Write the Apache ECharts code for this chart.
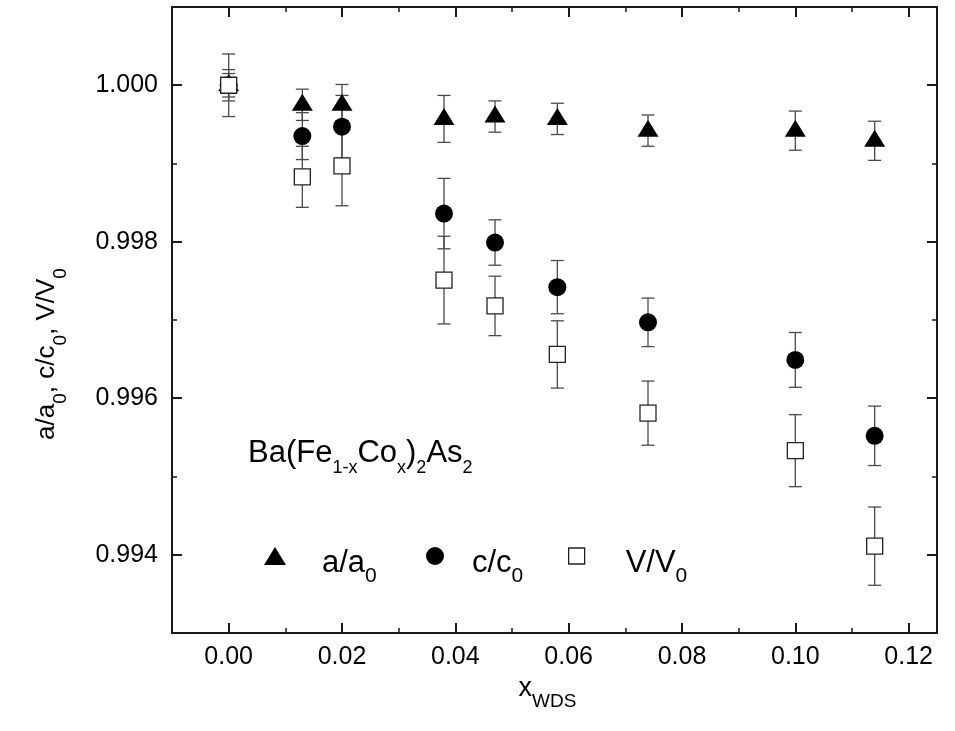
<!DOCTYPE html>
<html>
<head>
<meta charset="utf-8">
<script src="https://cdn.jsdelivr.net/npm/echarts@6/dist/echarts.min.js"></script>
<style>
  html, body { margin: 0; padding: 0; background: #ffffff; }
  #chart { width: 955px; height: 731px; }
</style>
</head>
<body>
<div id="chart"></div>
<script>
// Co content from WDS analysis
const xWds = [0.000, 0.013, 0.020, 0.038, 0.047, 0.058, 0.074, 0.100, 0.114];

// normalised lattice parameter a/a0 and its uncertainty
const aRatio = [1.00000, 0.99975, 0.99975, 0.99957, 0.99960, 0.99957, 0.99942, 0.99942, 0.99929];
const aErr   = [0.00015, 0.00020, 0.00026, 0.00030, 0.00020, 0.00020, 0.00020, 0.00025, 0.00025];

// normalised lattice parameter c/c0 and its uncertainty
const cRatio = [1.00000, 0.99935, 0.99947, 0.99836, 0.99799, 0.99742, 0.99697, 0.99649, 0.99552];
const cErr   = [0.00020, 0.00030, 0.00040, 0.00045, 0.00029, 0.00034, 0.00031, 0.00035, 0.00038];

// normalised unit-cell volume V/V0 and its uncertainty
const vRatio = [1.00000, 0.99883, 0.99897, 0.99751, 0.99718, 0.99656, 0.99581, 0.99533, 0.99411];
const vErr   = [0.00040, 0.00039, 0.00051, 0.00056, 0.00038, 0.00043, 0.00041, 0.00046, 0.00050];

// axis ticks
const xMajorTicks = [0.00, 0.02, 0.04, 0.06, 0.08, 0.10, 0.12];
const xMinorTicks = [0.01, 0.03, 0.05, 0.07, 0.09, 0.11];
const yMajorTicks = [0.994, 0.996, 0.998, 1.000];
const yMinorTicks = [0.995, 0.997, 0.999];

const FONT = '"Liberation Sans", Arial, Helvetica, sans-serif';
const INK = '#1a1a1a';
const X_MIN = -0.01, X_MAX = 0.125;
const Y_MIN = 0.993, Y_MAX = 1.001;

const chart = echarts.init(document.getElementById('chart'), null, { renderer: 'canvas' });

function pairs(values) {
  return xWds.map((x, i) => [x, values[i]]);
}
function errRows(values, errs) {
  return xWds.map((x, i) => [x, values[i] - errs[i], values[i] + errs[i]]);
}

// vertical error bar with end caps
function renderErrorBar(params, api) {
  const x = api.value(0);
  const lo = api.coord([x, api.value(1)]);
  const hi = api.coord([x, api.value(2)]);
  const half = 6.5;
  const style = { stroke: '#4a4a4a', lineWidth: 1.3, fill: null };
  return {
    type: 'group',
    children: [
      { type: 'line', shape: { x1: lo[0], y1: lo[1], x2: hi[0], y2: hi[1] }, style },
      { type: 'line', shape: { x1: lo[0] - half, y1: lo[1], x2: lo[0] + half, y2: lo[1] }, style },
      { type: 'line', shape: { x1: hi[0] - half, y1: hi[1], x2: hi[0] + half, y2: hi[1] }, style }
    ]
  };
}

function errorSeries(id, values, errs) {
  return {
    id: id,
    type: 'custom',
    xAxisIndex: 0,
    yAxisIndex: 0,
    renderItem: renderErrorBar,
    encode: { x: 0, y: [1, 2] },
    data: errRows(values, errs),
    z: 2,
    silent: true,
    clip: false
  };
}

// helper axes that only carry tick marks (minor ticks, mirrored frame)
function extraX(position, ticks, len, showLine) {
  return {
    type: 'value', position: position, min: X_MIN, max: X_MAX,
    axisLine: { show: showLine, onZero: false, lineStyle: { color: INK, width: 2 } },
    axisTick: { show: true, inside: true, length: len, customValues: ticks, lineStyle: { color: INK, width: len > 6 ? 2 : 1.5 } },
    axisLabel: { show: false },
    splitLine: { show: false }
  };
}
function extraY(position, ticks, len, showLine) {
  return {
    type: 'value', position: position, min: Y_MIN, max: Y_MAX,
    axisLine: { show: showLine, onZero: false, lineStyle: { color: INK, width: 2 } },
    axisTick: { show: true, inside: true, length: len, customValues: ticks, lineStyle: { color: INK, width: len > 6 ? 2 : 1.5 } },
    axisLabel: { show: false },
    splitLine: { show: false }
  };
}

// one legend block per series so every symbol keeps its own size
const LEGEND_CENTER_Y = 556;
const LEGEND_LINE_H = 36;
function legendFor(name, icon, w, h, left, gap, main, style) {
  return {
    data: [{ name: name, icon: icon, itemStyle: style }],
    left: left,
    top: LEGEND_CENTER_Y - LEGEND_LINE_H / 2,
    padding: 0,
    itemWidth: w,
    itemHeight: h,
    selectedMode: false,
    formatter: () => '{sp|}{n|' + main + '}{s|0}',
    textStyle: {
      color: '#000',
      fontFamily: FONT,
      rich: {
        sp: { width: gap, lineHeight: 10, verticalAlign: 'top' },
        n: { fontSize: 31, lineHeight: LEGEND_LINE_H, padding: [10, 0, 0, 0], verticalAlign: 'top', fontFamily: FONT, color: '#000' },
        s: { fontSize: 21, lineHeight: 21, padding: [27.5, 0, 0, 0], verticalAlign: 'top', fontFamily: FONT, color: '#000' }
      }
    }
  };
}

const option = {
  backgroundColor: '#ffffff',
  animation: false,
  textStyle: { fontFamily: FONT },
  grid: { left: 172, right: 18, top: 7, bottom: 98, containLabel: false },
  title: {
    text: '{n|Ba(Fe}{s|1-x}{n|Co}{s|x}{n|)}{s|2}{n|As}{s|2}',
    left: 248,
    top: 437.5,
    padding: 0,
    textStyle: {
      rich: {
        n: { fontSize: 31, lineHeight: 35, verticalAlign: 'top', fontFamily: FONT, color: '#000', fontWeight: 'normal' },
        s: { fontSize: 18, lineHeight: 18, padding: [22, 0, 0, 0], verticalAlign: 'top', fontFamily: FONT, color: '#000', fontWeight: 'normal' }
      }
    }
  },
  legend: [
    legendFor('a/a0', 'triangle', 22, 18, 264, 31, 'a/a', { color: '#000', borderWidth: 0 }),
    legendFor('c/c0', 'circle', 18, 18, 426, 23, 'c/c', { color: '#000', borderWidth: 0 }),
    legendFor('V/V0', 'rect', 16, 16, 568, 36, 'V/V', { color: '#fff', borderColor: '#222', borderWidth: 1.3 })
  ],
  xAxis: [
    {
      type: 'value', position: 'bottom', min: X_MIN, max: X_MAX,
      name: '{n|x}{s|WDS}',
      nameLocation: 'middle',
      nameGap: 33,
      nameTextStyle: {
        padding: [0, 14, 0, 0],
        rich: {
          n: { fontSize: 27, lineHeight: 30, verticalAlign: 'top', fontFamily: FONT, color: '#000' },
          s: { fontSize: 19, lineHeight: 19, padding: [17, 0, 0, 0], verticalAlign: 'top', fontFamily: FONT, color: '#000' }
        }
      },
      axisLine: { show: true, onZero: false, lineStyle: { color: INK, width: 2 } },
      axisTick: { show: true, inside: true, length: 10, customValues: xMajorTicks, lineStyle: { color: INK, width: 2 } },
      axisLabel: {
        show: true, customValues: xMajorTicks, margin: 12,
        fontSize: 25, color: '#000', fontFamily: FONT,
        formatter: v => v.toFixed(2)
      },
      splitLine: { show: false }
    },
    extraX('bottom', xMinorTicks, 5, false),
    extraX('top', xMajorTicks, 10, true),
    extraX('top', xMinorTicks, 5, false)
  ],
  yAxis: [
    {
      type: 'value', position: 'left', min: Y_MIN, max: Y_MAX,
      name: '{n|a/a}{s|0}{n|, c/c}{s|0}{n|, V/V}{s|0}',
      nameLocation: 'middle',
      nameGap: 108,
      nameTextStyle: {
        padding: [0, 68, 0, 0],
        rich: {
          n: { fontSize: 26, lineHeight: 30, verticalAlign: 'top', fontFamily: FONT, color: '#000' },
          s: { fontSize: 19, lineHeight: 19, padding: [17, 0, 0, 0], verticalAlign: 'top', fontFamily: FONT, color: '#000' }
        }
      },
      axisLine: { show: true, onZero: false, lineStyle: { color: INK, width: 2 } },
      axisTick: { show: true, inside: true, length: 10, customValues: yMajorTicks, lineStyle: { color: INK, width: 2 } },
      axisLabel: {
        show: true, customValues: yMajorTicks, margin: 14,
        fontSize: 25, color: '#000', fontFamily: FONT,
        formatter: v => v.toFixed(3)
      },
      splitLine: { show: false }
    },
    extraY('left', yMinorTicks, 5, false),
    extraY('right', yMajorTicks, 10, true),
    extraY('right', yMinorTicks, 5, false)
  ],
  series: [
    errorSeries('aErrBars', aRatio, aErr),
    errorSeries('cErrBars', cRatio, cErr),
    errorSeries('vErrBars', vRatio, vErr),
    {
      name: 'a/a0', type: 'scatter', xAxisIndex: 0, yAxisIndex: 0,
      symbol: 'triangle', symbolSize: [21, 17], symbolOffset: [0, -2.5],
      itemStyle: { color: '#000', opacity: 1 },
      data: pairs(aRatio), z: 4, silent: true
    },
    {
      name: 'c/c0', type: 'scatter', xAxisIndex: 0, yAxisIndex: 0,
      symbol: 'circle', symbolSize: 18,
      itemStyle: { color: '#000', opacity: 1 },
      data: pairs(cRatio), z: 5, silent: true
    },
    {
      name: 'V/V0', type: 'scatter', xAxisIndex: 0, yAxisIndex: 0,
      symbol: 'rect', symbolSize: 16,
      itemStyle: { color: '#fff', borderColor: '#222', borderWidth: 1.3, opacity: 1 },
      data: pairs(vRatio), z: 6, silent: true
    }
  ]
};

chart.setOption(option);
</script>
</body>
</html>
